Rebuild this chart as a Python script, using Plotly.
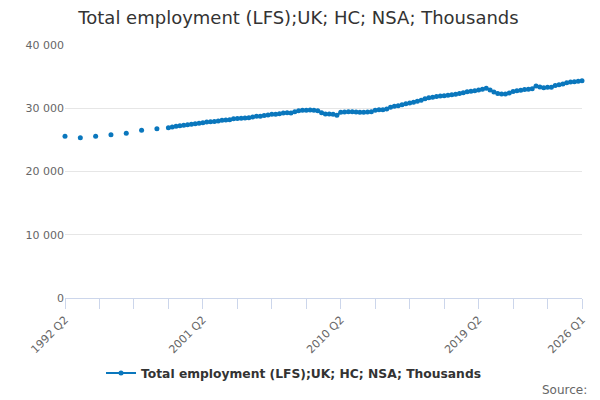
import plotly.graph_objects as go

# quarter categories from 1992 Q2 to 2026 Q1
quarters = []
for year in range(1992, 2027):
    for q in range(1, 5):
        if (year == 1992 and q == 1) or (year == 2026 and q > 1):
            continue
        quarters.append(f'{year} Q{q}')

# annual readings (Q2 of each year) before quarterly data starts
annual_labels = ['1992 Q2', '1993 Q2', '1994 Q2', '1995 Q2', '1996 Q2', '1997 Q2', '1998 Q2']
annual_values = [25560, 25340, 25560, 25820, 26030, 26510, 26770]

# quarterly readings from 1999 Q1 to 2026 Q1
quarterly_values = [
    26930, 27050, 27150, 27240,  # 1999
    27320, 27400, 27480, 27560,  # 2000
    27620, 27700, 27830, 27850,  # 2001
    27900, 28000, 28090, 28150,  # 2002
    28200, 28350, 28380, 28420,  # 2003
    28450, 28510, 28600, 28730,  # 2004
    28750, 28850, 28950, 29040,  # 2005
    29050, 29150, 29250, 29300,  # 2006
    29250, 29450, 29600, 29670,  # 2007
    29700, 29720, 29700, 29620,  # 2008
    29300, 29090, 29090, 29050,  # 2009
    28880, 29360, 29420, 29460,  # 2010
    29460, 29420, 29380, 29360,  # 2011
    29400, 29460, 29700, 29770,  # 2012
    29770, 29900, 30150, 30300,  # 2013
    30400, 30550, 30700, 30830,  # 2014
    30950, 31100, 31250, 31500,  # 2015
    31650, 31750, 31850, 31920,  # 2016
    31980, 32050, 32150, 32230,  # 2017
    32330, 32450, 32600, 32700,  # 2018
    32780, 32900, 33000, 33150,  # 2019
    32900, 32570, 32350, 32250,  # 2020
    32250, 32400, 32650, 32750,  # 2021
    32850, 32950, 33000, 33100,  # 2022
    33520, 33350, 33250, 33320,  # 2023
    33330, 33600, 33700, 33850,  # 2024
    34040, 34150, 34200, 34280,  # 2025
    34360,                       # 2026
]

y_ticks = [0, 10000, 20000, 30000, 40000]
y_tick_text = ['0', '10 000', '20 000', '30 000', '40 000']
x_label_quarters = ['1992 Q2', '2001 Q2', '2010 Q2', '2019 Q2', '2026 Q1']

series_name = 'Total employment (LFS);UK; HC; NSA; Thousands'

values = {q: None for q in quarters}
for lab, v in zip(annual_labels, annual_values):
    values[lab] = v
start = quarters.index('1999 Q1')
for i, v in enumerate(quarterly_values):
    values[quarters[start + i]] = v

blue = '#0a77bd'

fig = go.Figure()
fig.add_trace(go.Scatter(
    name=series_name,
    x=quarters,
    y=[values[q] for q in quarters],
    mode='lines+markers',
    line=dict(color=blue, width=2),
    marker=dict(color=blue, size=5),
    connectgaps=False,
    cliponaxis=False,
))

# tick marks every 9 quarters, labels only on a few
tick_vals = quarters[::9]
tick_text = [q if q in x_label_quarters else '' for q in tick_vals]

# page has an 8px body margin, so the figure is 592x392
fig.update_layout(
    width=592,
    height=392,
    margin=dict(l=57, r=18, t=37, b=102),
    paper_bgcolor='white',
    plot_bgcolor='white',
    font=dict(family='DejaVu Sans', color='#666666', size=11),
    title=dict(
        text=series_name,
        x=0.4907, xanchor='center',
        y=0.9745, yanchor='middle', yref='container',
        font=dict(size=18, color='#333333'),
    ),
    showlegend=True,
    legend=dict(
        orientation='h',
        x=0.442, xanchor='center',
        y=-0.296, yanchor='middle',
        font=dict(size=12.3, color='#333333', weight='bold'),
    ),
    xaxis=dict(
        type='category',
        categoryorder='array',
        categoryarray=quarters,
        range=[0, len(quarters) - 1],
        tickmode='array',
        tickvals=tick_vals,
        ticktext=tick_text,
        tickangle=-45,
        ticks='outside',
        ticklen=10,
        tickcolor='#ccd6eb',
        showline=True,
        linecolor='#ccd6eb',
        linewidth=1,
        showgrid=False,
        zeroline=False,
        tickfont=dict(size=11, color='#666666'),
    ),
    yaxis=dict(
        range=[0, 40000],
        tickmode='array',
        tickvals=y_ticks,
        ticktext=y_tick_text,
        showgrid=True,
        gridcolor='#e6e6e6',
        zeroline=False,
        showline=False,
        ticks='',
        tickfont=dict(size=11, color='#666666'),
    ),
    annotations=[dict(
        text='Source:',
        xref='paper', yref='paper',
        x=1.0135, xanchor='right',
        y=-0.364, yanchor='middle',
        showarrow=False,
        font=dict(size=12, color='#666666'),
    )],
)

fig.write_html('out.html')
